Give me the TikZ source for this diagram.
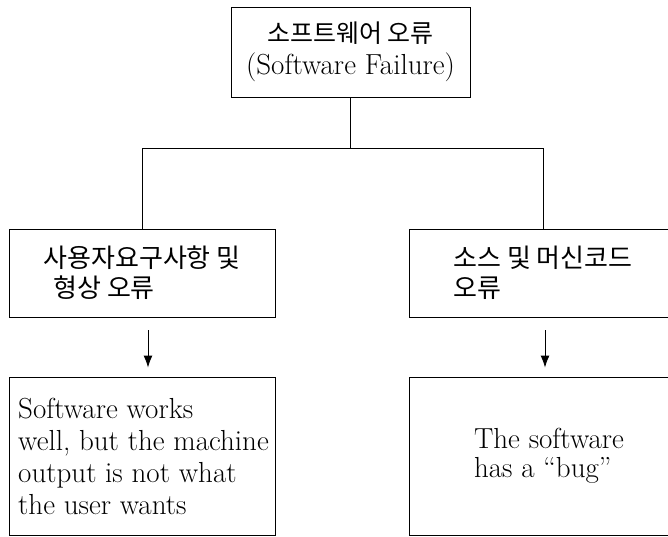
\documentclass[tikz,border=0pt]{standalone}
\usepackage{fontspec}
\newfontfamily\kr{Noto Sans CJK KR}
\usetikzlibrary{arrows.meta}

\begin{document}
\begin{tikzpicture}[x=1pt,y=-1pt,line width=0.9pt,
  box/.style={draw,rectangle,inner sep=0pt,align=left,font=\fontsize{29}{32}\selectfont},
  krtext/.style={font=\kr\fontsize{26}{30}\selectfont},
  arr/.style={-{Latex[length=12pt,width=9pt]},shorten <=13pt,shorten >=9pt}]
\clip (0,0) rectangle (668,536);

\node[box,align=center,minimum width=239,minimum height=90] (fail) at (350.5,52)
  {{\kr\fontsize{25}{33}\selectfont 소프트웨어 오류}\\(Software Failure)};

\node[box,krtext,minimum width=266,minimum height=88] (user) at (142,273)
  {사용자요구사항 및\\\hspace*{10pt}형상 오류};
\node[box,krtext,minimum width=268,minimum height=88] (code) at (543,273)
  {소스 및 머신코드\\오류};

\node[box,minimum width=266,minimum height=158] (wants) at (142,456)
  {\hspace*{3pt}Software works\\\hspace*{3pt}well, but the machine\\\hspace*{3pt}output is not what\\\hspace*{3pt}the user wants};
\node[box,font=\fontsize{29}{29}\selectfont,minimum width=268,minimum height=158] (bug) at (543,456)
  {\hspace*{12pt}The software\\\hspace*{12pt}has a “bug”};

\draw (fail.south) -- ++(0,51) coordinate (fork);
\draw (user.north) |- (fork) -| (code.north);

\draw[arr] ([xshift=6pt]user.south) -- ([xshift=6pt]wants.north);
\draw[arr] ([xshift=2pt]code.south) -- ([xshift=2pt]bug.north);
\end{tikzpicture}
\end{document}
